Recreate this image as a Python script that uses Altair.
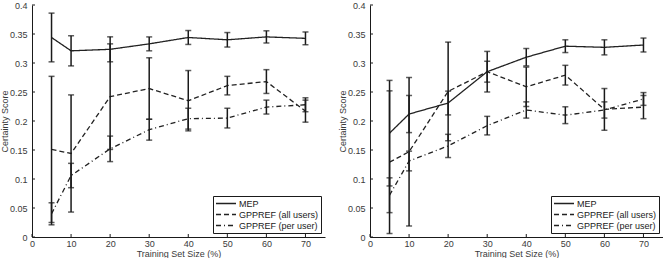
import altair as alt
import pandas as pd

# Training-set sizes (%) shared by both panels
sizes = [5, 10, 20, 30, 40, 50, 60, 70]
series_names = ["MEP", "GPPREF (all users)", "GPPREF (per user)"]

# Left panel: mean certainty score and half-width of the error bar
mep_a = [0.344, 0.321, 0.3236, 0.333, 0.344, 0.340, 0.345, 0.3425]
mep_a_err = [0.042, 0.026, 0.0215, 0.012, 0.012, 0.0125, 0.0105, 0.011]
all_a = [0.151, 0.144, 0.242, 0.256, 0.235, 0.261, 0.268, 0.217]
all_a_err = [0.126, 0.101, 0.091, 0.053, 0.052, 0.016, 0.0205, 0.019]
per_a = [0.040, 0.106, 0.152, 0.185, 0.204, 0.205, 0.224, 0.228]
per_a_err = [0.019, 0.021, 0.022, 0.018, 0.018, 0.017, 0.012, 0.012]

# Right panel
mep_b = [0.179, 0.212, 0.231, 0.285, 0.310, 0.329, 0.327, 0.331]
mep_b_err = [0.091, 0.032, 0.0205, 0.035, 0.015, 0.011, 0.013, 0.012]
all_b = [0.129, 0.147, 0.251, 0.285, 0.259, 0.279, 0.220, 0.224]
all_b_err = [0.123, 0.128, 0.085, 0.018, 0.034, 0.017, 0.036, 0.020]
per_b = [0.072, 0.131, 0.157, 0.192, 0.219, 0.210, 0.219, 0.238]
per_b_err = [0.030, 0.017, 0.020, 0.016, 0.014, 0.0145, 0.014, 0.011]

x_ticks = [0, 10, 20, 30, 40, 50, 60, 70]
y_ticks = [0, 0.05, 0.1, 0.15, 0.2, 0.25, 0.3, 0.35, 0.4]
y_labels = ["0", "0.05", "0.1", "0.15", "0.2", "0.25", "0.3", "0.35", "0.4"]

FONT = "Liberation Sans"
INK = "#1a1a1a"
TEXT = "#3a3a3a"
W, H = 293, 232

XS = alt.Scale(domain=[0, 75], nice=False, zero=False)
YS = alt.Scale(domain=[0, 0.4], nice=False)
X_AXIS = alt.Axis(values=x_ticks, title="Training Set Size (%)",
                  labelPadding=2, titlePadding=1)
# label text looked up from the tick list so every tick keeps its label
label_expr = "[" + ",".join("'%s'" % s for s in y_labels) + "][round(datum.value * 20)]"
Y_AXIS = alt.Axis(values=y_ticks, title="Certainty Score", labelExpr=label_expr,
                  labelPadding=5, titlePadding=0)


def frame(means, errs):
    rows = []
    for name, vals, es in zip(series_names, means, errs):
        for s, v, e in zip(sizes, vals, es):
            rows.append({"size": s, "score": v, "lo": v - e, "hi": v + e, "series": name})
    return pd.DataFrame(rows)


def xenc(field):
    return alt.X(field, scale=XS, axis=X_AXIS)


def yenc(field):
    return alt.Y(field, scale=YS, axis=Y_AXIS)


def panel(df):
    lines = alt.Chart(df).mark_line(color="#222222", strokeWidth=1.3, clip=True).encode(
        x=xenc("size:Q"), y=yenc("score:Q"),
        strokeDash=alt.StrokeDash("series:N", scale=alt.Scale(
            domain=series_names, range=[[1, 0], [5, 3], [5, 3, 1, 3]]),
            legend=alt.Legend(
                orient="bottom-right", title=None, symbolType="stroke",
                symbolStrokeColor="#222222", symbolStrokeWidth=1.3, symbolSize=400,
                clipHeight=11, rowPadding=0, labelOffset=2,
                labelFont=FONT, labelFontSize=9, labelColor=INK,
                fillColor="white", strokeColor=INK, padding=2, offset=4)),
        order="size:Q")

    bars = alt.Chart(df).mark_rule(color=INK, strokeWidth=1.5, clip=True).encode(
        x=xenc("size:Q"), y=yenc("lo:Q"), y2="hi:Q")
    cap_lo = alt.Chart(df).mark_tick(color=INK, orient="horizontal", size=6,
                                     thickness=1.5, clip=True).encode(
        x=xenc("size:Q"), y=yenc("lo:Q"))
    cap_hi = alt.Chart(df).mark_tick(color=INK, orient="horizontal", size=6,
                                     thickness=1.5, clip=True).encode(
        x=xenc("size:Q"), y=yenc("hi:Q"))

    # inward-pointing axis ticks
    ytick = alt.Chart(pd.DataFrame({"score": y_ticks})).mark_rule(
        color=INK, strokeWidth=1).encode(y=yenc("score:Q"), x=alt.value(0), x2=alt.value(3))
    xtick = alt.Chart(pd.DataFrame({"size": x_ticks})).mark_rule(
        color=INK, strokeWidth=1).encode(x=xenc("size:Q"), y=alt.value(H), y2=alt.value(H - 3))

    return alt.layer(lines, bars, cap_lo, cap_hi, ytick, xtick).properties(
        width=W, height=H)


left = panel(frame([mep_a, all_a, per_a], [mep_a_err, all_a_err, per_a_err]))
right = panel(frame([mep_b, all_b, per_b], [mep_b_err, all_b_err, per_b_err]))

chart = alt.hconcat(left, right, spacing=13).resolve_scale(
    strokeDash="independent").resolve_legend(strokeDash="independent").properties(
    padding={"left": 0, "top": 1, "right": 0, "bottom": 0},
    background="white").configure_view(stroke=None).configure_axis(
    grid=False, ticks=False, tickSize=0, domainColor=INK, domainWidth=1,
    labelOverlap=False, labelFlush=False,
    labelFont=FONT, labelFontSize=9, labelColor=TEXT,
    titleFont=FONT, titleFontSize=9, titleFontWeight="normal", titleColor=TEXT)

chart.save("out.html", embed_options={"renderer": "svg", "actions": False})
